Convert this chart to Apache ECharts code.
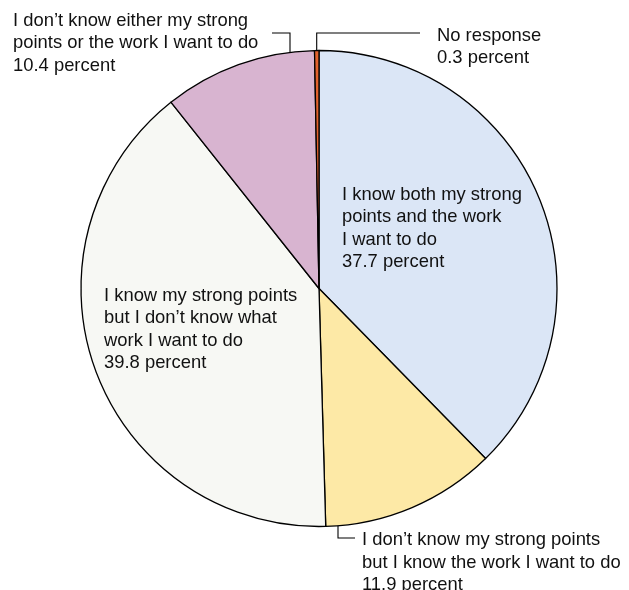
<!DOCTYPE html>
<html>
<head>
<meta charset="utf-8">
<style>
  html, body { margin: 0; padding: 0; background: #ffffff; }
  #chart { width: 629px; height: 590px; }
</style>
<script src="https://cdn.jsdelivr.net/npm/echarts@6/dist/echarts.min.js"></script>
</head>
<body>
<div id="chart"></div>
<script>
// Survey answers, clockwise from 12 o'clock
const categories = [
  'I know both my strong\npoints and the work\nI want to do',
  'I don\u2019t know my strong points\nbut I know the work I want to do',
  'I know my strong points\nbut I don\u2019t know what\nwork I want to do',
  'I don\u2019t know either my strong\npoints or the work I want to do',
  'No response'
];
const shares = [37.7, 11.9, 39.8, 10.4, 0.3];
const colors = ['#dbe6f6', '#fde9a6', '#f7f8f4', '#d8b4d0', '#e2622c'];
// which answers are labelled outside the pie with an elbow leader
const outsideLabel = [false, true, false, true, true];

const CX = 319, CY = 288.5, R = 238;

// text block anchors (top-left) and leader routing
const labelSpots = [
  { x: 342, y: 183.5 },
  { x: 362, y: 529, lead: { x: 338, turnY: 538, endX: 355, side: 'bottom' } },
  { x: 104, y: 284.5 },
  { x: 13,  y: 9.5,  lead: { x: 290, turnY: 33, endX: 272, side: 'top' } },
  { x: 437, y: 24.5, lead: { x: 316.7, turnY: 33, endX: 420, side: 'top' } }
];

function edgeY(x, side) {
  const dy = Math.sqrt(Math.max(0, R * R - (x - CX) * (x - CX)));
  return side === 'top' ? CY - dy : CY + dy;
}

const chart = echarts.init(document.getElementById('chart'), null, { renderer: 'canvas' });

chart.setOption({
  animation: false,
  backgroundColor: '#ffffff',
  series: [{
    type: 'pie',
    center: [CX, CY],
    radius: R,
    startAngle: 90,
    clockwise: true,
    avoidLabelOverlap: false,
    itemStyle: { borderColor: '#000000', borderWidth: 1.3 },
    emphasis: { disabled: true },
    label: {
      fontFamily: 'Liberation Sans, Arial, Helvetica, sans-serif',
      fontSize: 18.4,
      lineHeight: 22.4,
      color: '#111111',
      align: 'left',
      formatter: function (p) { return p.name + '\n' + p.value + ' percent'; }
    },
    labelLine: { lineStyle: { color: '#000000', width: 1.1 } },
    labelLayout: function (params) {
      const s = labelSpots[params.dataIndex];
      const out = { x: s.x, y: s.y, align: 'left', verticalAlign: 'top' };
      if (s.lead) {
        const ey = edgeY(s.lead.x, s.lead.side);
        out.labelLinePoints = [
          [s.lead.x, ey],
          [s.lead.x, s.lead.turnY],
          [s.lead.endX, s.lead.turnY]
        ];
      }
      return out;
    },
    data: categories.map(function (name, i) {
      return {
        name: name,
        value: shares[i],
        itemStyle: { color: colors[i] },
        label: { position: outsideLabel[i] ? 'outside' : 'inside' },
        labelLine: { show: outsideLabel[i] }
      };
    })
  }]
});
</script>
</body>
</html>
